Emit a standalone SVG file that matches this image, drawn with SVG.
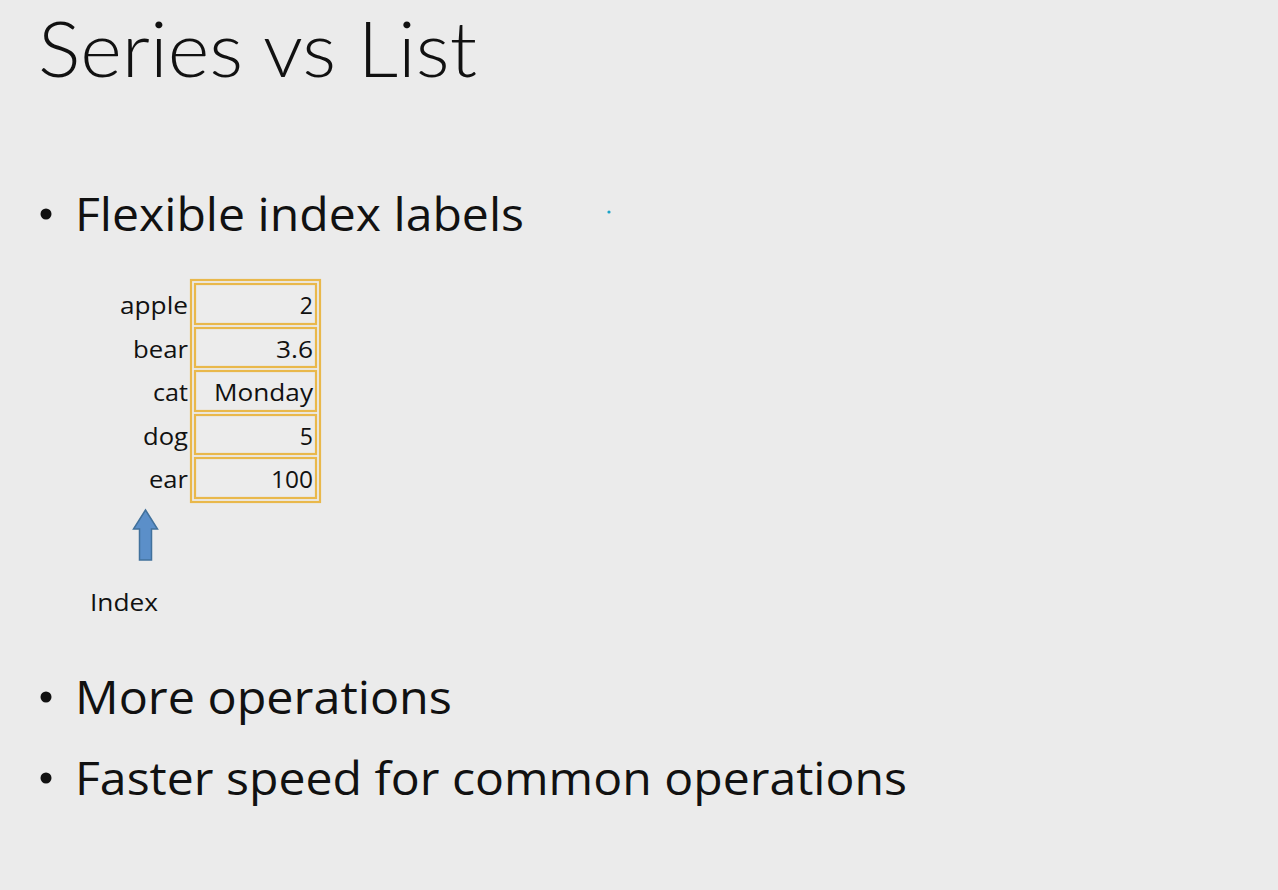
<svg xmlns="http://www.w3.org/2000/svg" width="1278" height="890" viewBox="0 0 1278 890">
<defs>
<style>
.t{font-family:"Open Sans","Noto Sans","Liberation Sans",sans-serif;fill:#111;}
.title{font-family:Lato,"Open Sans","Liberation Sans",sans-serif;font-size:76px;font-weight:300;}
.b{font-size:46px;}
.lbl{font-size:23px;text-anchor:end;}
.outer{fill:none;stroke:#E9B84B;stroke-width:2.2;}
.cell{fill:#ECECEC;stroke:#E9B84B;stroke-width:2.2;}
</style>
</defs>
<rect x="0" y="0" width="1278" height="890" fill="#EBEBEB"/>
<g id="title"><text class="t title" x="38" y="77" textLength="439" lengthAdjust="spacingAndGlyphs">Series vs List</text></g>
<g id="bullet1">
<circle cx="46" cy="214" r="5.5" fill="#111"/>
<text class="t b" x="75" y="231" textLength="449" lengthAdjust="spacingAndGlyphs">Flexible index labels</text>
</g>
<circle cx="609" cy="212" r="1.6" fill="#1aa3c8"/>
<g id="series">
<rect class="outer" x="191" y="280" width="129" height="222"/>
<g id="row-apple"><rect class="cell" x="195" y="284" width="121" height="40"/>
<text class="t lbl" x="188" y="314" textLength="68" lengthAdjust="spacingAndGlyphs">apple</text>
<text class="t lbl" x="313" y="314">2</text></g>
<g id="row-bear"><rect class="cell" x="195" y="328" width="121" height="39"/>
<text class="t lbl" x="188" y="358" textLength="55" lengthAdjust="spacingAndGlyphs">bear</text>
<text class="t lbl" x="313" y="358" textLength="37" lengthAdjust="spacingAndGlyphs">3.6</text></g>
<g id="row-cat"><rect class="cell" x="195" y="371" width="121" height="40"/>
<text class="t lbl" x="188" y="401" textLength="35" lengthAdjust="spacingAndGlyphs">cat</text>
<text class="t lbl" x="313" y="401" textLength="99" lengthAdjust="spacingAndGlyphs">Monday</text></g>
<g id="row-dog"><rect class="cell" x="195" y="415" width="121" height="39"/>
<text class="t lbl" x="188" y="445" textLength="45" lengthAdjust="spacingAndGlyphs">dog</text>
<text class="t lbl" x="313" y="445">5</text></g>
<g id="row-ear"><rect class="cell" x="195" y="458" width="121" height="40"/>
<text class="t lbl" x="188" y="488" textLength="39" lengthAdjust="spacingAndGlyphs">ear</text>
<text class="t lbl" x="313" y="488" textLength="42" lengthAdjust="spacingAndGlyphs">100</text></g>
</g>
<g id="connectors">
<path d="M145.5 510 L157.5 529 L151.5 529 L151.5 560 L139.5 560 L139.5 529 L133.5 529 Z" fill="#5B8FC9" stroke="#41719C" stroke-width="1.5"/>
</g>
<g id="index-label"><text class="t" x="90" y="611" font-size="23" textLength="68" lengthAdjust="spacingAndGlyphs">Index</text></g>
<g id="bullet2">
<circle cx="46" cy="697" r="5.5" fill="#111"/>
<text class="t b" x="75" y="714" textLength="377" lengthAdjust="spacingAndGlyphs">More operations</text>
</g>
<g id="bullet3">
<circle cx="46" cy="778" r="5.5" fill="#111"/>
<text class="t b" x="75" y="795" textLength="832" lengthAdjust="spacingAndGlyphs">Faster speed for common operations</text>
</g>
</svg>
